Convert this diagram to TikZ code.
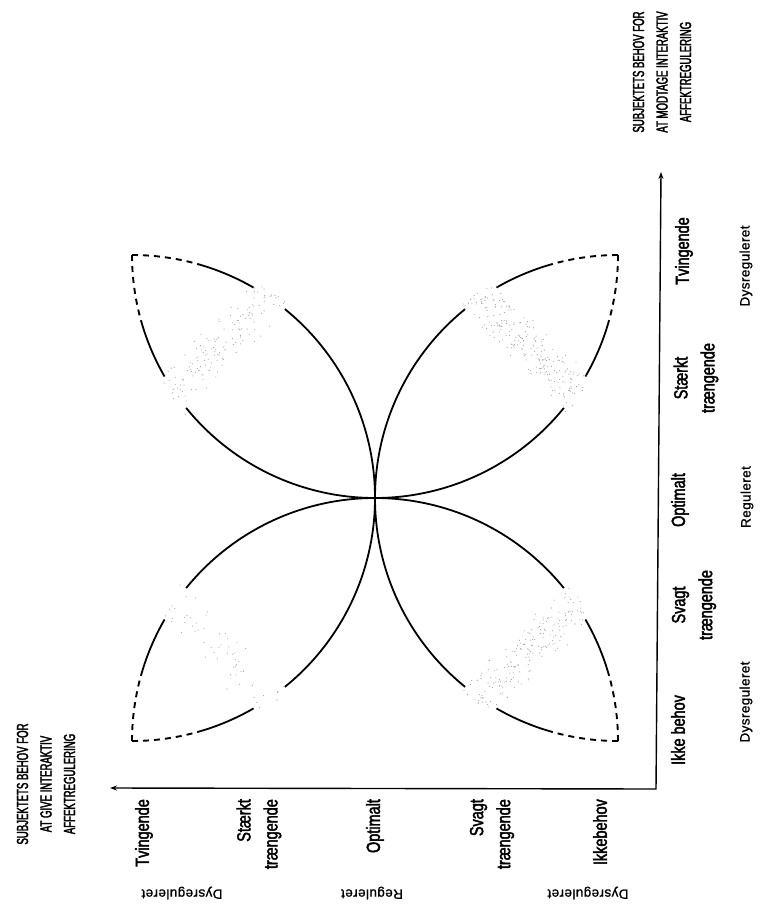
\documentclass[tikz,border=0pt]{standalone}
\usepackage{fontspec}
\setmainfont{Liberation Sans}
\newfontfamily\labfont[FakeStretch=0.76,FakeBold=2.2]{Liberation Sans}
\newfontfamily\ttlfont[FakeStretch=0.6,FakeBold=2.2]{Liberation Sans}
\newfontfamily\smlfont[FakeBold=1.2,LetterSpace=3]{Liberation Sans}
\usetikzlibrary{arrows.meta}
% one petal, drawn in the upper-left orientation; #1 seed, #2 number of stipple dots
\newcommand\petalshape[2]{%
  \draw[dsh] (-243,0) ++(90:243) arc[start angle=90,end angle=74,radius=243];
  \draw[arcline] (-243,0) ++(74:243) arc[start angle=74,end angle=60,radius=243];
  \draw[arcline] (-243,0) ++(51:243) arc[start angle=51,end angle=0,radius=243];
  \draw[dsh] (0,243) ++(180:243) arc[start angle=180,end angle=196,radius=243];
  \draw[arcline] (0,243) ++(196:243) arc[start angle=196,end angle=210,radius=243];
  \draw[arcline] (0,243) ++(219:243) arc[start angle=219,end angle=270,radius=243];
  \pgfmathsetseed{#1}%
  \foreach \i in {1,...,#2}{%
    \pgfmathsetmacro\sA{1.1*rnd-0.05}%
    \pgfmathsetmacro\tA{0.65*(rnd+rnd)-0.15}%
    \pgfmathsetmacro\dotx{(1-(\sA))*((1-(\tA))*(-121.5)+(\tA)*(-90.1))+(\sA)*((1-(\tA))*(-210.4)+(\tA)*(-188.8))}%
    \pgfmathsetmacro\doty{(1-(\sA))*((1-(\tA))*210.4+(\tA)*188.8)+(\sA)*((1-(\tA))*121.5+(\tA)*90.1)}%
    \fill[stip] (\dotx,\doty) circle[radius=0.55];
  }%
}
\begin{document}
\begin{tikzpicture}[x=1pt,y=-1pt,
  arcline/.style={line width=1.8pt},
  dsh/.style={line width=1.9pt, dash pattern=on 6pt off 5pt},
  axisline/.style={line width=1.4pt, {Stealth[length=7pt,width=5pt]}-{Stealth[length=7pt,width=5pt]}},
  lab/.style={font=\labfont\fontsize{19}{27}\selectfont, rotate=90, inner sep=0pt},
  small/.style={font=\smlfont\fontsize{13.5}{17}\selectfont, inner sep=0pt},
  ttl/.style={font=\ttlfont\fontsize{16}{23.5}\selectfont, rotate=90, align=center, inner sep=0pt},
  stip/.style={fill=black!38}]
\useasboundingbox[fill=white] (0,0) rectangle (760,912);

% petals
\begin{scope}[shift={(375,498)},yscale=-1]
  \petalshape{11}{150}
  \begin{scope}[xscale=-1]\petalshape{23}{240}\end{scope}
  \begin{scope}[yscale=-1]\petalshape{37}{60}\end{scope}
  \begin{scope}[xscale=-1,yscale=-1]\petalshape{41}{190}\end{scope}
\end{scope}

% axes
\coordinate (corner) at (656,789);
\coordinate (vtip) at (661,172);
\coordinate (htip) at (110,788);
\draw[axisline] (htip) -- (corner) -- (vtip);

% labels along the vertical axis
\node[lab] (rTv) at (684,251) {Tvingende};
\node[lab,align=center] (rSt) at (696,378) {Stærkt\\trængende};
\node[lab] (rOp) at (680,500) {Optimalt};
\node[lab,align=center] (rSv) at (694,605) {Svagt\\trængende};
\node[lab] (rIk) at (678,730) {Ikke behov};

% labels along the horizontal axis
\node[lab,anchor=east] (bTv) at (144,799) {Tvingende};
\node[lab,anchor=east,align=right] (bSt) at (259,799) {Stærkt\\trængende};
\node[lab,anchor=east] (bOp) at (375,799) {Optimalt};
\node[lab,anchor=east,align=right] (bSv) at (492,799) {Svagt\\trængende};
\node[lab,anchor=east] (bIk) at (600,799) {Ikkebehov};

% regulation labels
\node[small,rotate=90] (rD1) at (746,266) {Dysreguleret};
\node[small,rotate=90] (rR) at (747,497) {Reguleret};
\node[small,rotate=90] (rD2) at (746,702) {Dysreguleret};
\node[small,rotate=180] (bD1) at (182,893) {Dysreguleret};
\node[small,rotate=180] (bR) at (372,893) {Reguleret};
\node[small,rotate=180] (bD2) at (588,893) {Dysreguleret};

% axis titles
\node[ttl] (tR) at (662,72) {SUBJEKTETS BEHOV FOR\\AT MODTAGE INTERAKTIV\\AFFEKTREGULERING};
\node[ttl] (tL) at (46,784) {SUBJEKTETS BEHOV FOR\\AT GIVE INTERAKTIV\\AFFEKTREGULERING};
\end{tikzpicture}
\end{document}
